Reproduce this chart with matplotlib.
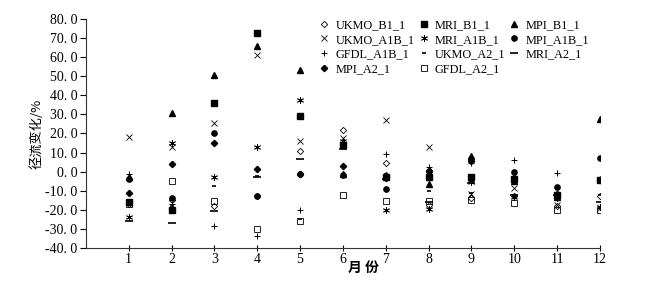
import numpy as np
import matplotlib
matplotlib.use('Agg')
import matplotlib.pyplot as plt

plt.rcParams['font.family'] = ['Liberation Serif', 'Noto Sans CJK SC']

months = np.arange(1, 13)

# runoff change (%) per scenario, months 1..12
ukmo_b1 = [-17, -15, -18, -13, 11, 22, 4.5, -17.5, -14, -13, -18, -13]
ukmo_a1b = [18, 13, 25.5, 61, 16, 17.5, 27, 13, -11.5, -8.5, -17.5, -19]
gfdl_a1b = [-1, -17, -28.5, -34, -20, 15, 9.5, 2.5, 4.5, 6, -0.5, -4]
mpi_a2 = [-11, 4, 15, 1.5, -1.5, 3, -3.5, 0.3, 5.5, -3.5, -11.5, -4.5]
mri_b1 = [-16, -20, 36, 72.5, 29, 14, -3, -3, -2.8, -4, -12.5, -4.5]
mri_a1b = [-24, 15, -3, 13, 37.5, 16, -20, -19.7, -5.5, -13.5, -14, -18.5]
ukmo_a2 = [-5, -18, -7.5, -2.5, -25, 13, -1, -10, -11, -12, -12, -12]
gfdl_a2 = [-17, -5, -15.5, -30, -26, -12, -15.5, -15.5, -15, -16.5, -20, -20]
mpi_b1 = [-3, 30.5, 50.5, 66, 53.5, -1.5, -2, -6.3, 8, -5, -13.5, 27.5]
mpi_a1b = [-4, -14, 20.5, -13, -1, -2, -9, 0.5, 6.5, 0, -8, 7.3]
mri_a2 = [-26, -27, -20.5, -3, 6.5, 12, -4, -16, -6, -12.5, -12, -16]

yticks = np.arange(-40, 81, 10)
ytick_labels = [('%.1f' % v).replace('.', '. ') for v in yticks]

series = [
    ('UKMO_B1_1', ukmo_b1, dict(marker='D', ms=3.2, mfc='none', mec='k', mew=0.6)),
    ('UKMO_A1B_1', ukmo_a1b, dict(marker='x', ms=4.5, mec='k', mew=0.6)),
    ('GFDL_A1B_1', gfdl_a1b, dict(marker='+', ms=5, mec='k', mew=0.7)),
    ('MPI_A2_1', mpi_a2, dict(marker='D', ms=3.2, mfc='k', mec='k')),
    ('MRI_B1_1', mri_b1, dict(marker='s', ms=3.8, mfc='k', mec='k')),
    ('MRI_A1B_1', mri_a1b, dict(marker=(6, 2, 0), ms=5, mec='k', mew=0.6)),
    ('UKMO_A2_1', ukmo_a2, dict(marker='_', ms=3, mec='k', mew=1.2)),
    ('GFDL_A2_1', gfdl_a2, dict(marker='s', ms=3.8, mfc='none', mec='k', mew=0.6)),
    ('MPI_B1_1', mpi_b1, dict(marker='^', ms=4.2, mfc='k', mec='k')),
    ('MPI_A1B_1', mpi_a1b, dict(marker='o', ms=3.8, mfc='k', mec='k')),
    ('MRI_A2_1', mri_a2, dict(marker='_', ms=6, mec='k', mew=1.2)),
]

fig = plt.figure(figsize=(6.71, 2.84), dpi=100)
ax = fig.add_axes([0.128, 0.127, 0.766, 0.806])

for name, vals, st in series:
    ax.plot(months, vals, linestyle='none', label=name, **st)

ax.set_xlim(0, 12)
ax.set_ylim(-40, 80)
ax.set_xticks(months)
ax.set_yticks(yticks)
ax.set_yticklabels(ytick_labels)
ax.spines['top'].set_visible(False)
ax.spines['right'].set_visible(False)
ax.spines['left'].set_color('#333333')
ax.spines['bottom'].set_color('#333333')
ax.tick_params(axis='y', direction='out', length=4, labelsize=10, pad=2)
ax.tick_params(axis='x', direction='inout', length=5, labelsize=10, pad=1)

ax.set_ylabel('径流变化/%', fontsize=9.5, family=['Noto Sans CJK SC'], labelpad=1)
ax.set_xlabel('月 份', fontsize=10, family=['Noto Sans CJK SC'], fontweight='bold')
ax.xaxis.set_label_coords(0.54, -0.055)

ax.legend(loc='upper left', bbox_to_anchor=(0.452, 1.0), ncol=3, frameon=False,
          fontsize=8.8, handlelength=1.0, handletextpad=0.4, columnspacing=0.25,
          labelspacing=0.22, borderpad=0, borderaxespad=0)

fig.savefig('out.png', dpi=100)
